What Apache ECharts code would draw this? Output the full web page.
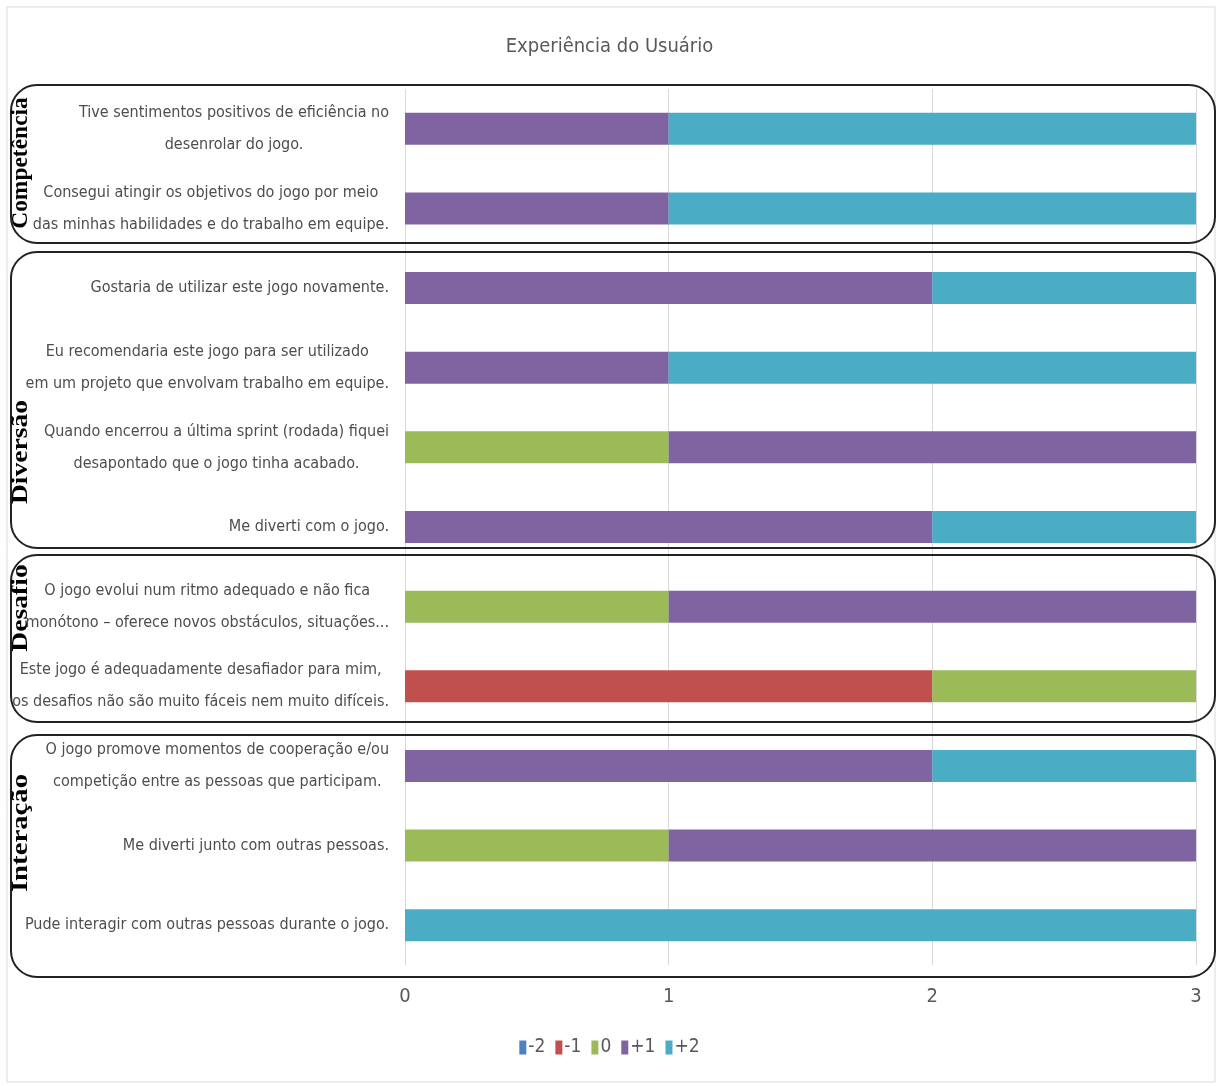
<!DOCTYPE html>
<html lang="pt-br">
<head>
  <meta charset="utf-8">
  <title>Experiência do Usuário</title>
  <script src="https://cdn.jsdelivr.net/npm/echarts@6/dist/echarts.min.js"></script>
  <style>
    html, body { margin: 0; padding: 0; background: #fff; }
    #main { width: 1219px; height: 1086px; }
  </style>
</head>
<body>
<div id="main"></div>
<script>
  // perguntas (de cima para baixo)
  var perguntas = [
    'Tive sentimentos positivos de eficiência no\ndesenrolar do jogo.',
    'Consegui atingir os objetivos do jogo por meio\ndas minhas habilidades e do trabalho em equipe.',
    'Gostaria de utilizar este jogo novamente.',
    'Eu recomendaria este jogo para ser utilizado\nem um projeto que envolvam trabalho em equipe.',
    'Quando encerrou a última sprint (rodada) fiquei\ndesapontado que o jogo tinha acabado.',
    'Me diverti com o jogo.',
    'O jogo evolui num ritmo adequado e não fica\nmonótono – oferece novos obstáculos, situações...',
    'Este jogo é adequadamente desafiador para mim,\nos desafios não são muito fáceis nem muito difíceis.',
    'O jogo promove momentos de cooperação e/ou\ncompetição entre as pessoas que participam.',
    'Me diverti junto com outras pessoas.',
    'Pude interagir com outras pessoas durante o jogo.'
  ];
  var escala = ['-2', '-1', '0', '+1', '+2'];
  var menos2 = [0, 0, 0, 0, 0, 0, 0, 0, 0, 0, 0];
  var menos1 = [0, 0, 0, 0, 0, 0, 0, 2, 0, 0, 0];
  var zero   = [0, 0, 0, 0, 1, 0, 1, 1, 0, 1, 0];
  var mais1  = [1, 1, 2, 1, 2, 2, 2, 0, 2, 2, 0];
  var mais2  = [2, 2, 1, 2, 0, 1, 0, 0, 1, 0, 3];
  var xTicks = [0, 1, 2, 3];

  var cores = ['#4F81BD', '#C0504D', '#9BBB59', '#8064A2', '#4BACC6'];
  var fonte = '"Liberation Sans Narrow", "DejaVu Sans Condensed", sans-serif';
  var serif = '"Liberation Serif", "DejaVu Serif", serif';

  var chart = echarts.init(document.getElementById('main'), null, {renderer: 'canvas'});

  // caixas dos grupos
  var grupos = [
    {nome: 'Competência', y: 85, h: 158, cy: 163, s: 1.02},
    {nome: 'Diversão', y: 252, h: 296, cy: 452, s: 1.2},
    {nome: 'Desafio', y: 555, h: 167, cy: 608, s: 1.2},
    {nome: 'Interação', y: 735, h: 242, cy: 833, s: 1.25}
  ];
  var graficos = [{
    type: 'rect', z: -1, silent: true,
    shape: {x: 7, y: 7, width: 1208, height: 1075},
    style: {fill: 'none', stroke: '#d9d9d9', lineWidth: 1}
  }];
  grupos.forEach(function (g) {
    graficos.push({
      type: 'rect', z: 10, silent: true,
      shape: {x: 11, y: g.y, width: 1204, height: g.h, r: 26},
      style: {fill: 'none', stroke: '#222', lineWidth: 2}
    });
    graficos.push({
      type: 'text', z: 11, silent: true,
      x: 21, y: g.cy, rotation: Math.PI / 2, scaleX: g.s,
      style: {
        text: g.nome, font: 'bold 23px ' + serif, fill: '#000',
        align: 'center', verticalAlign: 'middle'
      }
    });
  });

  var nomes = [menos2, menos1, zero, mais1, mais2];
  var series = escala.map(function (nome, i) {
    return {
      name: nome, type: 'bar', stack: 'total', barWidth: 32,
      itemStyle: {color: cores[i]},
      data: nomes[i]
    };
  });

  chart.setOption({
    animation: false,
    title: {
      text: 'Experiência do Usuário', left: 'center', top: 32,
      textStyle: {fontFamily: fonte, fontSize: 20, fontWeight: 'normal', color: '#595959'}
    },
    legend: {
      data: escala, bottom: 24, left: 'center',
      itemWidth: 7, itemHeight: 14, itemGap: 10,
      icon: 'rect',
      textStyle: {fontFamily: fonte, fontSize: 19, color: '#595959', padding: [0, 0, 0, -3]}
    },
    grid: {left: 405, right: 23, top: 89, bottom: 121, outerBoundsMode: 'none', containLabel: false},
    xAxis: {
      type: 'value', min: xTicks[0], max: xTicks[xTicks.length - 1], interval: 1,
      axisLine: {show: false}, axisTick: {show: false},
      splitLine: {lineStyle: {color: '#d9d9d9'}},
      axisLabel: {fontFamily: fonte, fontSize: 20, color: '#595959', margin: 22}
    },
    yAxis: {
      type: 'category', inverse: true, data: perguntas,
      axisLine: {show: false}, axisTick: {show: false},
      axisLabel: {
        margin: 16, align: 'right',
        formatter: function (v) {
          return v.split('\n').map(function (l) { return '{c|' + l + '}'; }).join('\n');
        },
        rich: {
          c: {align: 'center', fontFamily: fonte, fontSize: 16, color: '#4d4d4d', lineHeight: 32}
        }
      }
    },
    graphic: graficos,
    series: series
  });
</script>
</body>
</html>
